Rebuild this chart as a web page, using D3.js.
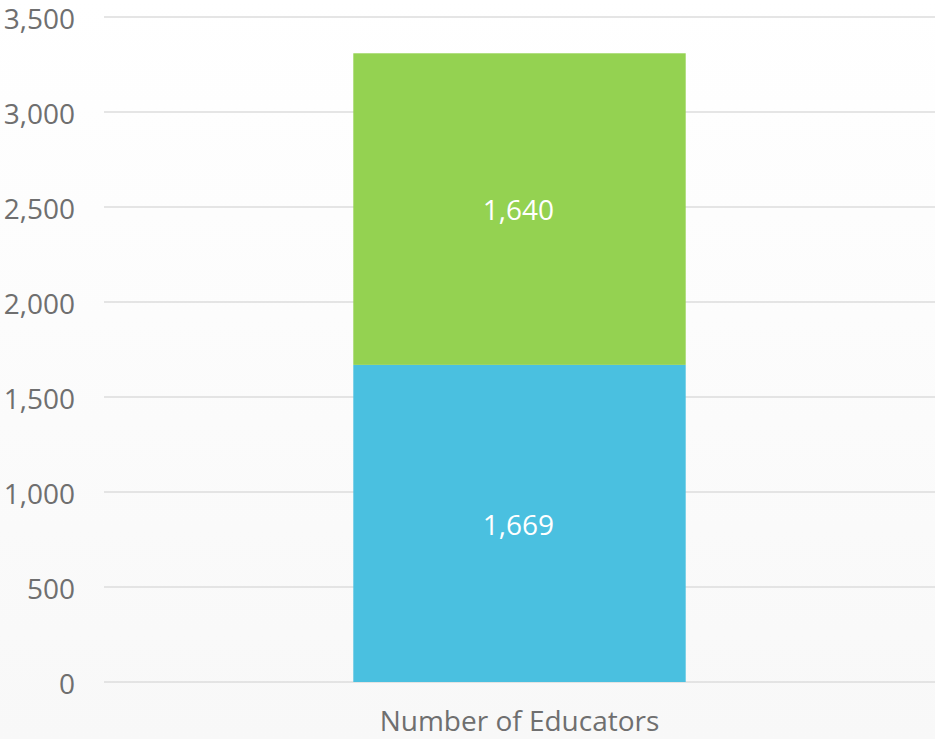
<!DOCTYPE html>
<html><head><meta charset="utf-8">
<script src="https://cdn.jsdelivr.net/npm/d3@7"></script>
<style>html,body{margin:0;padding:0;background:#fff;}svg{display:block;}</style>
</head><body>
<svg id="c" width="935" height="739"></svg>
<script>
const categories = ["Number of Educators"];
const seriesNames = ["Series A", "Series B"];
const seriesA = [1669];
const seriesB = [1640];
const colors = ["#4ac0e0", "#94d251"];
const yTicks = [0, 500, 1000, 1500, 2000, 2500, 3000, 3500];

(function(){
const svg = d3.select("#c");
const W = 935, H = 739;
const defs = svg.append("defs");
const grad = defs.append("linearGradient").attr("id","bg").attr("x1",0).attr("y1",0).attr("x2",0).attr("y2",1);
grad.append("stop").attr("offset","0%").attr("stop-color","#ffffff");
grad.append("stop").attr("offset","100%").attr("stop-color","#f8f8f8");
svg.append("rect").attr("width",W).attr("height",H).attr("fill","url(#bg)");

const mL = 104, mR = 935, mT = 17, mB = 682;
const x = d3.scaleBand().domain(categories).range([mL, mR]).paddingInner(0.6).paddingOuter(0.3);
const y = d3.scaleLinear().domain([0, 3500]).range([mB, mT]);

const fmt = d3.format(",");
const font = "'Open Sans', sans-serif";
const fs = 28;

const yAxis = d3.axisLeft(y).tickValues(yTicks).tickSize(0).tickPadding(29).tickFormat(fmt);
const gy = svg.append("g").attr("transform", `translate(${mL},0)`).call(yAxis);
gy.select(".domain").remove();
gy.selectAll("text").attr("font-family", font).attr("font-size", fs).attr("fill", "#6f6f6f").attr("dy", "0.42em");
svg.append("g").selectAll("line").data(yTicks).join("line")
  .attr("x1", mL).attr("x2", mR).attr("y1", d => y(d)).attr("y2", d => y(d))
  .attr("stroke", "#dcdcdc").attr("stroke-width", 1.5);

const stacked = d3.stack().keys([0,1]).value((d, k) => d[k])(categories.map((c, i) => [seriesA[i], seriesB[i]]));
stacked.forEach((layer, li) => {
  layer.forEach((seg, i) => {
    const bx = x(categories[i]), bw = x.bandwidth();
    svg.append("rect").attr("x", bx).attr("width", bw)
      .attr("y", y(seg[1])).attr("height", y(seg[0]) - y(seg[1]))
      .attr("fill", colors[li]);
    svg.append("text").attr("x", bx + bw / 2 - 1).attr("y", (y(seg[0]) + y(seg[1])) / 2)
      .attr("dy", "0.4em").attr("text-anchor", "middle")
      .attr("font-family", font).attr("font-size", fs).attr("fill", "#ffffff")
      .text(fmt(seg[1] - seg[0]));
  });
});

const xAxis = d3.axisBottom(x).tickSize(0).tickPadding(29);
const gx = svg.append("g").attr("transform", `translate(0,${mB})`).call(xAxis);
gx.select(".domain").remove();
gx.selectAll("text").attr("font-family", font).attr("font-size", fs).attr("fill", "#6f6f6f");
})();
</script>
</body></html>
